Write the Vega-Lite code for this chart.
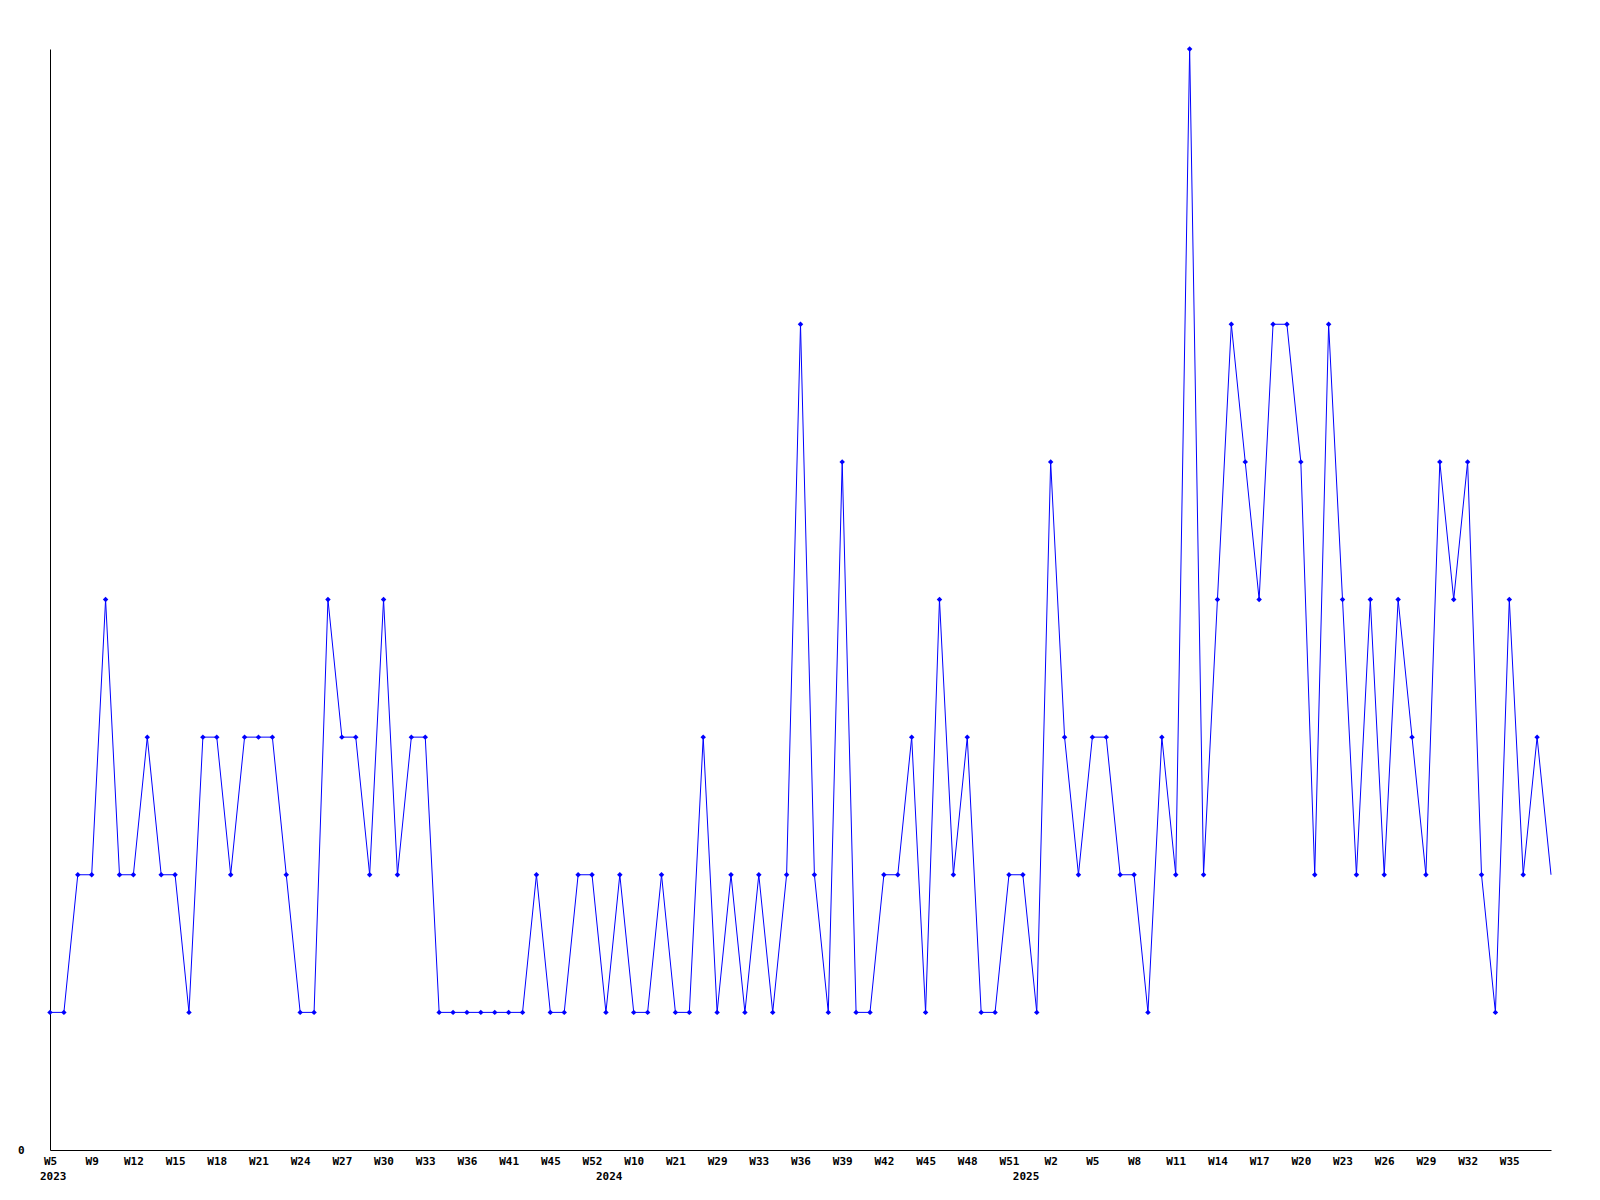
{
  "$schema": "https://vega.github.io/schema/vega-lite/v6.json",
  "width": 1501,
  "height": 1101,
  "autosize": "none",
  "padding": {"left": 50, "top": 49, "right": 49, "bottom": 50},
  "background": "white",
  "config": {"view": {"stroke": null}},
  "data": {"values": [
    {"k": "2023 W5", "v": 1, "yl": "2023"},
    {"k": "2023 W6", "v": 1},
    {"k": "2023 W8", "v": 2},
    {"k": "2023 W9", "v": 2},
    {"k": "2023 W10", "v": 4},
    {"k": "2023 W11", "v": 2},
    {"k": "2023 W12", "v": 2},
    {"k": "2023 W13", "v": 3},
    {"k": "2023 W14", "v": 2},
    {"k": "2023 W15", "v": 2},
    {"k": "2023 W16", "v": 1},
    {"k": "2023 W17", "v": 3},
    {"k": "2023 W18", "v": 3},
    {"k": "2023 W19", "v": 2},
    {"k": "2023 W20", "v": 3},
    {"k": "2023 W21", "v": 3},
    {"k": "2023 W22", "v": 3},
    {"k": "2023 W23", "v": 2},
    {"k": "2023 W24", "v": 1},
    {"k": "2023 W25", "v": 1},
    {"k": "2023 W26", "v": 4},
    {"k": "2023 W27", "v": 3},
    {"k": "2023 W28", "v": 3},
    {"k": "2023 W29", "v": 2},
    {"k": "2023 W30", "v": 4},
    {"k": "2023 W31", "v": 2},
    {"k": "2023 W32", "v": 3},
    {"k": "2023 W33", "v": 3},
    {"k": "2023 W34", "v": 1},
    {"k": "2023 W35", "v": 1},
    {"k": "2023 W36", "v": 1},
    {"k": "2023 W38", "v": 1},
    {"k": "2023 W40", "v": 1},
    {"k": "2023 W41", "v": 1},
    {"k": "2023 W43", "v": 1},
    {"k": "2023 W44", "v": 2},
    {"k": "2023 W45", "v": 1},
    {"k": "2023 W47", "v": 1},
    {"k": "2023 W50", "v": 2},
    {"k": "2023 W52", "v": 2},
    {"k": "2024 W0", "v": 1, "yl": "2024"},
    {"k": "2024 W5", "v": 2},
    {"k": "2024 W10", "v": 1},
    {"k": "2024 W14", "v": 1},
    {"k": "2024 W18", "v": 2},
    {"k": "2024 W21", "v": 1},
    {"k": "2024 W24", "v": 1},
    {"k": "2024 W27", "v": 3},
    {"k": "2024 W29", "v": 1},
    {"k": "2024 W30", "v": 2},
    {"k": "2024 W32", "v": 1},
    {"k": "2024 W33", "v": 2},
    {"k": "2024 W34", "v": 1},
    {"k": "2024 W35", "v": 2},
    {"k": "2024 W36", "v": 6},
    {"k": "2024 W37", "v": 2},
    {"k": "2024 W38", "v": 1},
    {"k": "2024 W39", "v": 5},
    {"k": "2024 W40", "v": 1},
    {"k": "2024 W41", "v": 1},
    {"k": "2024 W42", "v": 2},
    {"k": "2024 W43", "v": 2},
    {"k": "2024 W44", "v": 3},
    {"k": "2024 W45", "v": 1},
    {"k": "2024 W46", "v": 4},
    {"k": "2024 W47", "v": 2},
    {"k": "2024 W48", "v": 3},
    {"k": "2024 W49", "v": 1},
    {"k": "2024 W50", "v": 1},
    {"k": "2024 W51", "v": 2},
    {"k": "2025 W0", "v": 2, "yl": "2025"},
    {"k": "2025 W1", "v": 1},
    {"k": "2025 W2", "v": 5},
    {"k": "2025 W3", "v": 3},
    {"k": "2025 W4", "v": 2},
    {"k": "2025 W5", "v": 3},
    {"k": "2025 W6", "v": 3},
    {"k": "2025 W7", "v": 2},
    {"k": "2025 W8", "v": 2},
    {"k": "2025 W9", "v": 1},
    {"k": "2025 W10", "v": 3},
    {"k": "2025 W11", "v": 2},
    {"k": "2025 W12", "v": 8},
    {"k": "2025 W13", "v": 2},
    {"k": "2025 W14", "v": 4},
    {"k": "2025 W15", "v": 6},
    {"k": "2025 W16", "v": 5},
    {"k": "2025 W17", "v": 4},
    {"k": "2025 W18", "v": 6},
    {"k": "2025 W19", "v": 6},
    {"k": "2025 W20", "v": 5},
    {"k": "2025 W21", "v": 2},
    {"k": "2025 W22", "v": 6},
    {"k": "2025 W23", "v": 4},
    {"k": "2025 W24", "v": 2},
    {"k": "2025 W25", "v": 4},
    {"k": "2025 W26", "v": 2},
    {"k": "2025 W27", "v": 4},
    {"k": "2025 W28", "v": 3},
    {"k": "2025 W29", "v": 2},
    {"k": "2025 W30", "v": 5},
    {"k": "2025 W31", "v": 4},
    {"k": "2025 W32", "v": 5},
    {"k": "2025 W33", "v": 2},
    {"k": "2025 W34", "v": 1},
    {"k": "2025 W35", "v": 4},
    {"k": "2025 W36", "v": 2},
    {"k": "2025 W37", "v": 3},
    {"k": "2025 W38", "v": 2}
  ]},
  "encoding": {
    "x": {
      "field": "k",
      "type": "ordinal",
      "sort": null,
      "scale": {"type": "point", "padding": 0},
      "axis": {
        "title": null,
        "values": ["2023 W5", "2023 W9", "2023 W12", "2023 W15", "2023 W18", "2023 W21", "2023 W24", "2023 W27", "2023 W30", "2023 W33", "2023 W36", "2023 W41", "2023 W45", "2023 W52", "2024 W10", "2024 W21", "2024 W29", "2024 W33", "2024 W36", "2024 W39", "2024 W42", "2024 W45", "2024 W48", "2024 W51", "2025 W2", "2025 W5", "2025 W8", "2025 W11", "2025 W14", "2025 W17", "2025 W20", "2025 W23", "2025 W26", "2025 W29", "2025 W32", "2025 W35"],
        "labelExpr": "length(split(datum.value, ' ')[1]) < 3 ? split(datum.value, ' ')[1] + '\u00a0' : split(datum.value, ' ')[1]",
        "labelAngle": 0,
        "labelFont": "DejaVu Sans Mono",
        "labelFontWeight": "bold",
        "labelFontSize": 11,
        "labelColor": "black",
        "labelPadding": 5,
        "labelOverlap": false,
        "labelFlush": false,
        "labelBound": false,
        "ticks": false,
        "grid": false,
        "domainColor": "black",
        "domainWidth": 1
      }
    },
    "y": {
      "field": "v",
      "type": "quantitative",
      "scale": {"domain": [0, 8], "nice": false},
      "axis": {
        "title": null,
        "values": [0],
        "ticks": false,
        "grid": false,
        "labelFont": "DejaVu Sans Mono",
        "labelFontWeight": "bold",
        "labelFontSize": 11,
        "labelColor": "black",
        "labelPadding": 26,
        "labelBaseline": "middle",
        "domainColor": "black",
        "domainWidth": 1
      }
    }
  },
  "layer": [
    {"mark": {"type": "line", "color": "#0000ff", "strokeWidth": 1}},
    {
      "mark": {"type": "point", "shape": "diamond", "filled": true, "size": 30, "color": "#0000ff"},
      "encoding": {
        "opacity": {"condition": {"test": "datum.k === '2025 W38'", "value": 0}, "value": 1}
      }
    },
    {
      "mark": {"type": "text", "align": "left", "baseline": "top", "dx": -10, "dy": 21, "font": "DejaVu Sans Mono", "fontWeight": "bold", "fontSize": 11, "color": "black"},
      "encoding": {
        "y": {"datum": 0},
        "text": {"condition": {"test": "isValid(datum.yl)", "field": "yl"}, "value": ""}
      }
    }
  ]
}
